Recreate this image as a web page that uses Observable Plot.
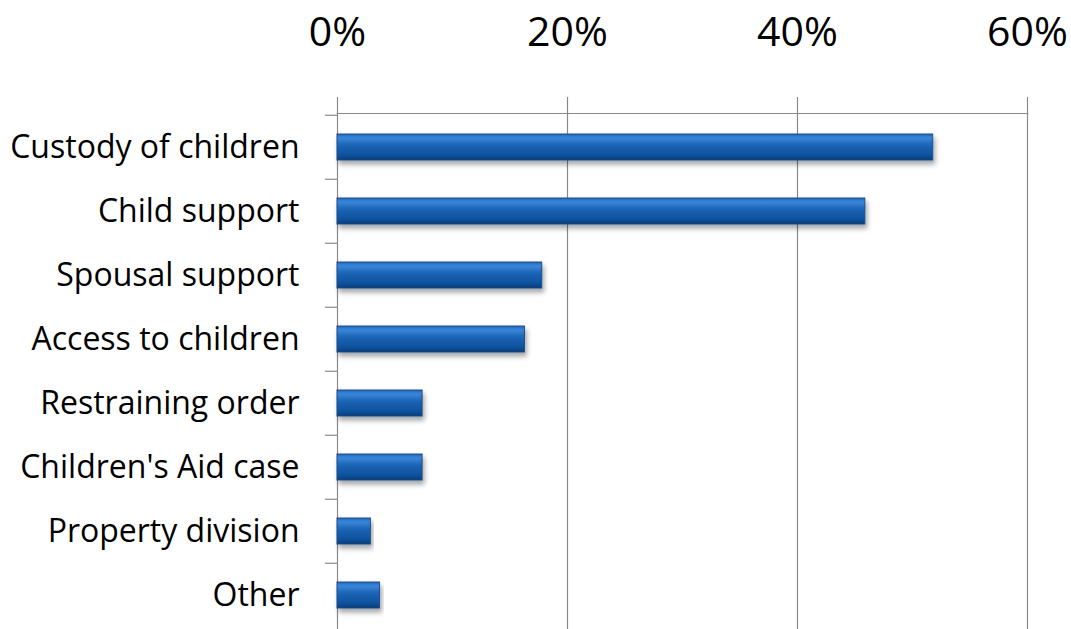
<!DOCTYPE html>
<html>
<head>
<meta charset="utf-8">
<script src="https://cdn.jsdelivr.net/npm/d3@7"></script>
<script src="https://cdn.jsdelivr.net/npm/@observablehq/plot@0.6"></script>
<style>
  html, body { margin: 0; padding: 0; background: #fff; }
  #chart { width: 1071px; height: 629px; overflow: hidden; }
</style>
</head>
<body>
<div id="chart"></div>
<script>
const categories = ["Custody of children", "Child support", "Spousal support", "Access to children", "Restraining order", "Children's Aid case", "Property division", "Other"];
const values = [0.518, 0.459, 0.178, 0.163, 0.074, 0.074, 0.029, 0.037];
const xTicks = [0, 0.2, 0.4, 0.6];

const data = categories.map((c, i) => ({category: c, value: values[i]}));
const marginTop = 113, height = 629;
const band = (height - marginTop) / categories.length;

const chart = Plot.plot({
  width: 1071,
  height: height,
  marginLeft: 337,
  marginRight: 44,
  marginTop: marginTop,
  marginBottom: 0,
  style: {fontFamily: "'Open Sans', sans-serif", background: "#fff", color: "#000"},
  x: {domain: [0, 0.6], axis: null},
  y: {domain: categories, axis: null, paddingInner: 0.6, paddingOuter: 0.3, align: 0.5},
  marks: [
    Plot.gridX(xTicks.slice(1), {stroke: "#8a8a8a", strokeOpacity: 1, strokeWidth: 1.2}),
    Plot.axisX(xTicks, {anchor: "top", label: null, tickSize: 17, tickPadding: 51, stroke: "#8a8a8a", strokeWidth: 1.2,
      tickFormat: d => Math.round(d * 100) + "%", fontSize: 41, fill: "#000"}),
    Plot.frame({anchor: "top", stroke: "#8a8a8a", strokeWidth: 1.2}),
    Plot.frame({anchor: "left", stroke: "#8a8a8a", strokeWidth: 1.2}),
    Plot.axisY({anchor: "left", label: null, tickSize: 12, tickFormat: () => "", stroke: "#8a8a8a", strokeWidth: 1.2, dy: -band / 2}),
    Plot.axisY({anchor: "left", label: null, tickSize: 0, tickPadding: 38, fontSize: 32, fill: "#000"}),
    Plot.barX(data, {x: "value", y: "category", fill: "url(#barGrad)", stroke: "#1b4f8a", strokeWidth: 1})
  ]
});

// gradient + shadow defs for the 3D-look bars
const ns = "http://www.w3.org/2000/svg";
const defs = document.createElementNS(ns, "defs");
defs.innerHTML = `
  <linearGradient id="barGrad" x1="0" y1="0" x2="0" y2="1">
    <stop offset="0" stop-color="#2365b8"/>
    <stop offset="0.15" stop-color="#3a86d8"/>
    <stop offset="0.45" stop-color="#1b62b5"/>
    <stop offset="0.8" stop-color="#0f54a0"/>
    <stop offset="1" stop-color="#083a75"/>
  </linearGradient>
  <filter id="shadow" x="-5%" y="-30%" width="115%" height="190%">
    <feDropShadow dx="2" dy="4" stdDeviation="2.5" flood-color="#000" flood-opacity="0.35"/>
  </filter>`;
chart.insertBefore(defs, chart.firstChild);
chart.querySelectorAll("g[aria-label='bar'] rect").forEach(r => r.setAttribute("filter", "url(#shadow)"));
document.getElementById("chart").appendChild(chart);
</script>
</body>
</html>
